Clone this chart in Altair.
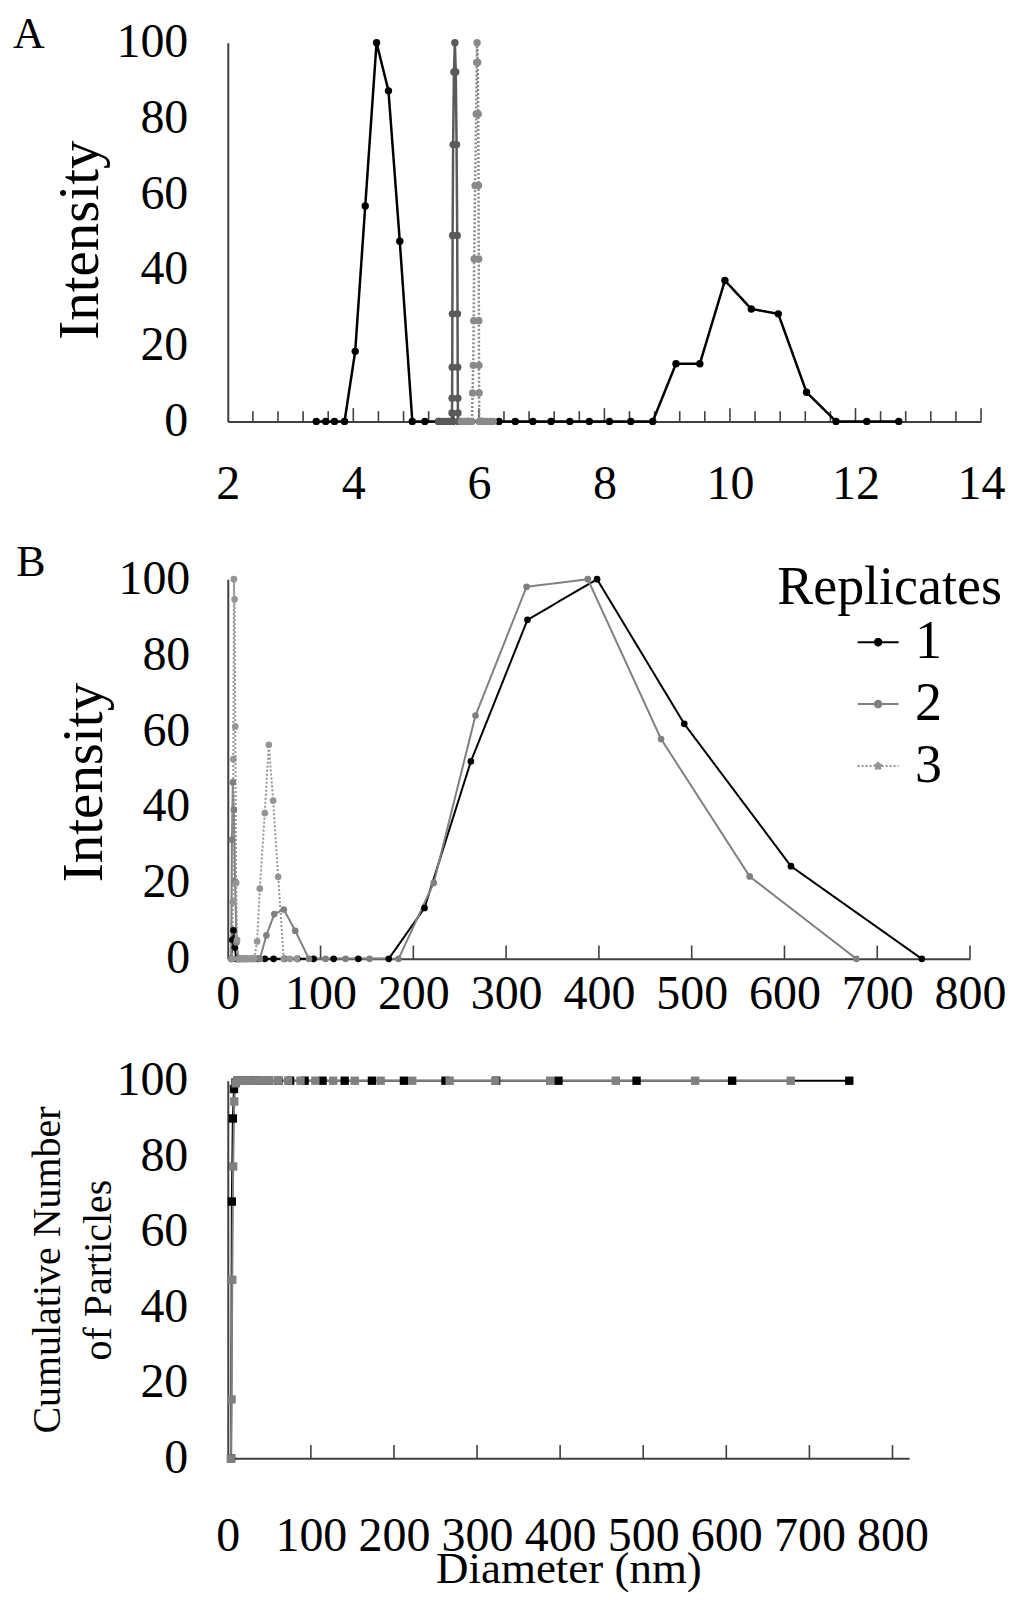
import altair as alt
import pandas as pd

FONT = "Liberation Serif"

# ---------------- Panel A data ----------------
a1_x = [3.41, 3.56, 3.70, 3.86, 4.03, 4.19, 4.37, 4.56, 4.74, 4.94, 5.14, 5.36, 5.58, 5.82, 6.06, 6.32,
        6.58, 6.86, 7.15, 7.45, 7.76, 8.08, 8.42, 8.77, 9.14, 9.52, 9.92, 10.34, 10.77, 11.22, 11.69, 12.18, 12.69]
a1_y = [0, 0, 0, 0, 18.5, 56.9, 100, 87.3, 47.6, 0, 0, 0, 0, 0, 0, 0,
        0, 0, 0, 0, 0, 0, 0, 0, 15.2, 15.2, 37.2, 29.7, 28.4, 7.7, 0, 0, 0]
a2_x = [5.36, 5.41, 5.46, 5.51, 5.55, 5.570, 5.572, 5.574, 5.576, 5.578, 5.582, 5.590, 5.603, 5.618,
        5.632, 5.645, 5.655, 5.660, 5.663, 5.665, 5.667, 5.669, 5.71, 5.76]
a2_y = [0, 0, 0, 0, 0, 0, 2.2, 6.1, 14.3, 28.4, 49.1, 73.1, 92.3, 100,
        92.3, 73.1, 49.1, 28.4, 14.3, 6.1, 2.2, 0, 0, 0]
a3_x = [5.72, 5.77, 5.82, 5.86, 5.89, 5.900, 5.910, 5.918, 5.925, 5.940, 5.958, 5.966, 5.972,
        5.982, 5.990, 5.995, 5.998, 6.000, 6.002, 6.004, 6.006, 6.03, 6.08, 6.13, 6.18, 6.23]
a3_y = [0, 0, 0, 0, 0, 7.5, 14.8, 26.6, 42.9, 62.3, 81.2, 94.8, 100,
        94.8, 81.2, 62.3, 42.9, 26.6, 14.8, 7.5, 0, 0, 0, 0, 0, 0]
a_label_ticks = [2, 4, 6, 8, 10, 12, 14]
a_minor_ticks = [2.4, 2.8, 3.2, 3.6, 4.4, 4.8, 5.2, 5.6, 6.4, 6.8, 7.2, 7.6, 8.4, 8.8, 9.2, 9.6,
                 10.4, 10.8, 11.2, 11.6, 12.4, 12.8, 13.2, 13.6]
a_major_ticks = [4, 6, 8, 10, 12, 14]

# ---------------- Panel B data ----------------
b1_x = [4.0, 4.9, 6.1, 7.5, 9.2, 11.4, 14.0, 17.3, 21.4, 26.3, 32.5, 40.0, 49.4, 60.9, 75.0, 92.5,
        114.1, 140.7, 173.5, 212, 262, 323, 398, 492, 607, 748]
b1_y = [0, 5, 7.5, 3, 0, 0, 0, 0, 0, 0, 0, 0, 0, 0, 0, 0,
        0, 0, 0, 13.4, 52, 89.3, 100, 61.9, 24.4, 0]
b2_x = [3.7, 4.5, 5.4, 6.5, 7.8, 9.4, 11.3, 13.6, 16.4, 19.8, 23.8, 28.7, 34.6, 41.6, 50.1, 60.4,
        72.7, 87.5, 105.4, 126.9, 152.8, 184, 222, 267, 322, 388, 467, 562.5, 677.5]
b2_y = [0, 31.4, 46.5, 39.3, 20.4, 4.3, 0, 0, 0, 0, 0, 0, 0, 6.2, 11.8, 13,
        7.4, 0, 0, 0, 0, 0, 20, 64.1, 98, 100, 57.9, 21.7, 0]
b3_x = [4.8, 5.4, 6.0, 6.6, 7.3, 8.1, 9.0, 10.0, 11.1, 12.4, 13.7, 15.2, 16.9, 18.8, 20.8, 23.1,
        25.7, 28.5, 31.6, 34.5, 39.9, 44.2, 48.9, 54.3, 60.3, 66.9, 74.3]
b3_y = [0, 15, 52.6, 100, 94.7, 61.2, 20, 5, 0, 0, 0, 0, 0, 0, 0, 0,
        0, 0, 4.6, 18.5, 38.4, 56.4, 41.7, 21.6, 0, 0, 0]
b_label_ticks = [0, 100, 200, 300, 400, 500, 600, 700, 800]
b_major_ticks = [100, 200, 300, 400, 500, 600, 700, 800]

# ---------------- Panel C data ----------------
c1_x = b1_x
c1_y = [0, 68, 90, 97.8, 99.5, 100, 100, 100, 100, 100, 100, 100, 100, 100, 100, 100,
        100, 100, 100, 100, 100, 100, 100, 100, 100, 100]
c2_x = b2_x
c2_y = [0, 15.6, 47.3, 77.3, 94.5, 99.3, 100, 100, 100, 100, 100, 100, 100, 100, 100, 100,
        100, 100, 100, 100, 100, 100, 100, 100, 100, 100, 100, 100, 100]
c_label_ticks = [0, 100, 200, 300, 400, 500, 600, 700, 800]
c_major_ticks = [100, 200, 300, 400, 500, 600, 700, 800]

y_ticks = [0, 20, 40, 60, 80, 100]
series_names = ["1", "2", "3"]


def frame(xs, ys, s):
    return pd.DataFrame({"x": xs, "y": ys, "series": s, "i": list(range(len(xs)))})


def xaxis(values, pad, title=None, title_size=48, **kw):
    return alt.Axis(values=values, ticks=False, grid=False, labelPadding=pad, labelFont=FONT,
                    labelFontSize=48, labelColor="black", domainColor="#404040", domainWidth=2,
                    labelFlush=False, labelOverlap=False, format="d", title=title, titleFont=FONT,
                    titleFontSize=title_size, titleFontWeight="normal", titleColor="black", **kw)


def yaxis(title, pad, title_x, title_size, **kw):
    return alt.Axis(values=y_ticks, ticks=False, grid=False, labelPadding=pad, labelFont=FONT,
                    labelFontSize=48, labelColor="black", domainColor="#404040", domainWidth=2,
                    labelFlush=False, labelOverlap=False, title=title, titleFont=FONT,
                    titleFontSize=title_size, titleFontWeight="normal", titleColor="black",
                    titleX=title_x, titleBaseline="middle", titleLimit=800, **kw)


def panel_letter(letter, dx, dy):
    return alt.Chart(pd.DataFrame({"t": [letter]})).mark_text(
        font=FONT, fontSize=44, align="center", baseline="alphabetic", color="black"
    ).encode(text="t:N", x=alt.value(dx), y=alt.value(dy))


def tick_rules(values, length):
    return alt.Chart(pd.DataFrame({"x": values})).mark_rule(
        color="#404040", strokeWidth=1.6).encode(x="x:Q", y=alt.datum(0), y2=alt.datum(length))


# ================= Panel A =================
dfA = pd.concat([frame(a1_x, a1_y, "1"), frame(a2_x, a2_y, "2"), frame(a3_x, a3_y, "3")])
xA = alt.X("x:Q", scale=alt.Scale(domain=[2, 14], nice=False, zero=False),
           axis=xaxis(a_label_ticks, 39))
yA = alt.Y("y:Q", scale=alt.Scale(domain=[0, 100], nice=False),
           axis=yaxis("Intensity", 40, -147, 57, titleY=197))
colA = alt.Color("series:N", scale=alt.Scale(domain=series_names,
                 range=["#000000", "#5a5a5a", "#8a8a8a"]), legend=None)
dashA = alt.StrokeDash("series:N", scale=alt.Scale(domain=series_names,
                       range=[[1, 0], [1, 0], [2, 2]]), legend=None)
lineA = alt.Chart(dfA).mark_line(strokeWidth=2.5).encode(
    x=xA, y=yA, color=colA, strokeDash=dashA, order="i:Q")
ptsA = alt.Chart(dfA).mark_circle(size=55, opacity=1).encode(x="x:Q", y="y:Q", color=colA)
chartA = alt.layer(tick_rules(a_minor_ticks, 2.7), tick_rules(a_major_ticks, 3.5), lineA, ptsA,
                   panel_letter("A", -199, 5)).properties(width=754, height=379)

# ================= Panel B =================
dfB = pd.concat([frame(b1_x, b1_y, "1"), frame(b2_x, b2_y, "2"), frame(b3_x, b3_y, "3")])
xB = alt.X("x:Q", scale=alt.Scale(domain=[0, 800], nice=False),
           axis=xaxis(b_label_ticks, 12))
yB = alt.Y("y:Q", scale=alt.Scale(domain=[0, 100], nice=False),
           axis=yaxis("Intensity", 38, -143, 57, titleY=203))
PATH = "M-1,0H1M-0.16,0A0.16,0.16,0,1,1,0.16,0A0.16,0.16,0,1,1,-0.16,0Z"
legB = alt.Legend(orient="none", legendX=550, legendY=-18, title="Replicates", titleFont=FONT,
                  titleFontSize=54, titleFontWeight="normal", titleColor="black", titlePadding=0,
                  titleLimit=600, labelLimit=300,
                  labelFont=FONT, labelFontSize=54, labelColor="black", symbolType=PATH,
                  symbolSize=1681, symbolStrokeWidth=2, symbolOffset=74, labelOffset=10,
                  rowPadding=8, padding=0)
colB = alt.Color("series:N", scale=alt.Scale(domain=series_names,
                 range=["#000000", "#808080", "#959595"]), legend=legB)
dashB = alt.StrokeDash("series:N", scale=alt.Scale(domain=series_names,
                       range=[[1, 0], [1, 0], [2, 2]]), legend=legB)
lineB = alt.Chart(dfB).mark_line(strokeWidth=2).encode(
    x=xB, y=yB, color=colB, strokeDash=dashB, order="i:Q")
ptsB = alt.Chart(dfB).mark_circle(size=45, opacity=1).encode(x="x:Q", y="y:Q", color=colB)
chartB = alt.layer(tick_rules(b_major_ticks, 3.5), lineB, ptsB,
                   panel_letter("B", -197, -3)).properties(width=743, height=380)

# ================= Panel C =================
dfC = pd.concat([frame(c1_x, c1_y, "1"), frame(c2_x, c2_y, "2")])
xC = alt.X("x:Q", scale=alt.Scale(domain=[0, 820], nice=False),
           axis=xaxis(c_label_ticks, 54, title="Diameter (nm)", title_size=45,
                      titleY=124, titleBaseline="alphabetic"))
yC = alt.Y("y:Q", scale=alt.Scale(domain=[0, 100], nice=False),
           axis=yaxis(["Cumulative Number", "of Particles"], 40, -180, 40, titleLineHeight=51))
colC = alt.Color("series:N", scale=alt.Scale(domain=["1", "2"], range=["#000000", "#808080"]),
                 legend=None)
lineC = alt.Chart(dfC).mark_line(strokeWidth=2).encode(x=xC, y=yC, color=colC, order="i:Q")
ptsC = alt.Chart(dfC).mark_square(size=70, opacity=1).encode(x="x:Q", y="y:Q", color=colC)
chartC = alt.layer(tick_rules(c_major_ticks, 3.5), lineC, ptsC).properties(width=682, height=378)

inner = alt.vconcat(chartB, chartC, spacing=122, bounds="flush").resolve_scale(
    x="independent", y="independent", color="independent", strokeDash="independent")
chart = alt.vconcat(chartA, inner, spacing=158, bounds="flush").resolve_scale(
    x="independent", y="independent", color="independent", strokeDash="independent"
).configure_view(stroke=None).properties(padding={"left": 5, "top": 4, "right": 0, "bottom": 0})

chart.save("out.html", embed_options={"renderer": "svg", "actions": False})
